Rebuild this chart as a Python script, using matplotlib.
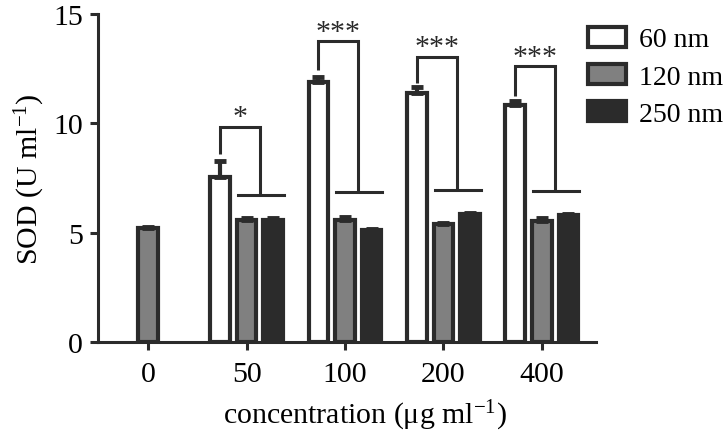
import numpy as np
import matplotlib
matplotlib.use('Agg')
import matplotlib.pyplot as plt

plt.rcParams['font.family'] = ['Liberation Serif', 'DejaVu Serif']
plt.rcParams['mathtext.fontset'] = 'custom'
plt.rcParams['mathtext.rm'] = 'Liberation Serif'
plt.rcParams['mathtext.it'] = 'Liberation Serif:italic'

# data
conc = ['0', '50', '100', '200', '400']
sod_60 = [np.nan, 7.55, 11.9, 11.4, 10.85]
err_60 = [np.nan, 0.75, 0.2, 0.25, 0.15]
sod_120 = [5.2, 5.6, 5.6, 5.4, 5.55]
err_120 = [0.05, 0.05, 0.1, 0.05, 0.1]
sod_250 = [np.nan, 5.6, 5.1, 5.85, 5.8]
err_250 = [np.nan, 0.05, 0.05, 0.05, 0.05]

# significance brackets (groups 50..400)
sig_groups = [1, 2, 3, 4]
sig_labels = ['*', '***', '***', '***']
sig_start = [8.6, 12.45, 11.85, 11.25]
sig_top = [9.85, 13.75, 13.05, 12.6]
sig_low = [6.7, 6.85, 6.95, 6.9]

dark = '#2b2b2b'
gray = '#808080'
fs = 21.5

fig = plt.figure(figsize=(7.28, 4.35), dpi=100)
ax = fig.add_axes([0.1346, 0.2115, 0.6841, 0.754])

x = np.arange(len(conc))
off = 0.27
w = 0.2
lw = 3.0

def draw(vals, errs, dx, face, label):
    vals = np.array(vals, dtype=float)
    errs = np.array(errs, dtype=float)
    m = ~np.isnan(vals)
    ax.bar(x[m] + dx, vals[m], width=w, color=face, edgecolor=dark,
           linewidth=lw, label=label, zorder=3)
    ax.errorbar(x[m] + dx, vals[m], yerr=[np.zeros(m.sum()), errs[m]],
                fmt='none', ecolor=dark, elinewidth=3, capsize=4,
                capthick=3.5, zorder=4)

draw(sod_60, err_60, -off, 'white', '60 nm')
draw(sod_120, err_120, 0, gray, '120 nm')
draw(sod_250, err_250, off, dark, '250 nm')

for g, lab, s, t, lo in zip(sig_groups, sig_labels, sig_start, sig_top, sig_low):
    xl = g - off
    xr = g + off / 2
    ax.plot([xl, xl, xr, xr], [s, t, t, lo], color=dark, lw=2.2,
            solid_capstyle='butt', solid_joinstyle='miter', zorder=5,
            clip_on=False)
    ax.plot([g - 0.09, g + 0.38], [lo, lo], color=dark, lw=2.2, zorder=5)
    ax.text((xl + xr) / 2, t - 0.15, lab, ha='center', va='bottom',
            fontsize=fs, color=dark)

ax.set_xlim(-0.51, 4.55)
ax.set_ylim(0, 15)
ax.set_yticks([0, 5, 10, 15])
ax.set_xticks(x)
ax.set_xticklabels(conc)
ax.spines['top'].set_visible(False)
ax.spines['right'].set_visible(False)
for s in ['left', 'bottom']:
    ax.spines[s].set_linewidth(2.2)
    ax.spines[s].set_color(dark)
ax.tick_params(axis='both', width=2.2, length=6, color=dark,
               labelsize=fs, pad=5)
ax.tick_params(axis='x', pad=8)

ax.set_ylabel('SOD (U ml$^{-1}$)', fontsize=fs, labelpad=4)
ax.set_xlabel('concentration (\u03bcg ml$^{-1}$)', fontsize=fs)
ax.xaxis.set_label_coords(0.536, -0.17)

fig.legend(loc='upper left', bbox_to_anchor=(0.8, 0.949), frameon=False,
           fontsize=20, handlelength=1.37, handleheight=0.72,
           labelspacing=0.42, handletextpad=0.47, borderpad=0.2,
           borderaxespad=0)

plt.savefig('out.png', dpi=100)
